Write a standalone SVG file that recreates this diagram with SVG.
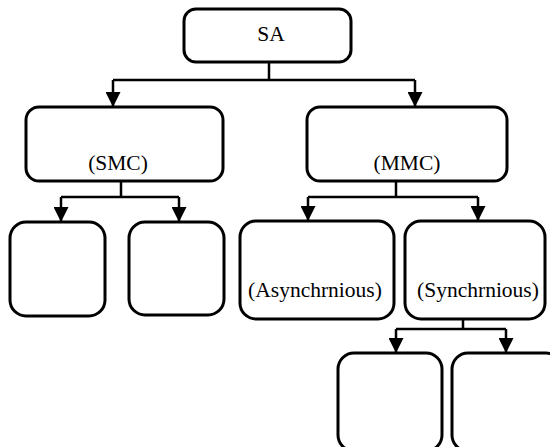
<svg xmlns="http://www.w3.org/2000/svg" width="550" height="447" viewBox="0 0 550 447">
<defs>
<marker id="arr" viewBox="0 0 15 15" refX="15" refY="7.5" markerWidth="15" markerHeight="15" markerUnits="userSpaceOnUse" orient="auto">
<path d="M0,0 L15,7.5 L0,15 Z" fill="#000"/>
</marker>
</defs>
<style>
.box{fill:#fff;stroke:#000;stroke-width:3}
.lbl{font-family:'Liberation Serif','Times New Roman','DejaVu Serif',serif;font-size:21.5px;fill:#000;text-anchor:middle}
.c{fill:none;stroke:#000;stroke-width:2.5}
</style>
<rect width="550" height="447" fill="#fff"/>
<g id="connectors">
<path class="c" d="M269,62 V80 M113,80 H415"/>
<path class="c" d="M113,80 V107" marker-end="url(#arr)"/>
<path class="c" d="M415,80 V107" marker-end="url(#arr)"/>
<path class="c" d="M121,181 V197 M61,197 H179"/>
<path class="c" d="M61,197 V222" marker-end="url(#arr)"/>
<path class="c" d="M179,197 V222" marker-end="url(#arr)"/>
<path class="c" d="M396,181 V197 M308,197 H478"/>
<path class="c" d="M308,197 V221" marker-end="url(#arr)"/>
<path class="c" d="M478,197 V221" marker-end="url(#arr)"/>
<path class="c" d="M463,319 V329 M396,329 H506"/>
<path class="c" d="M396,329 V353" marker-end="url(#arr)"/>
<path class="c" d="M506,329 V353" marker-end="url(#arr)"/>
</g>
<g id="sa"><rect class="box" x="184" y="9" width="167" height="53" rx="12"/><text class="lbl" x="271" y="41">SA</text></g>
<g id="smc"><rect class="box" x="26" y="107" width="197" height="74" rx="13"/><text class="lbl" x="118" y="170">(SMC)</text></g>
<g id="mmc"><rect class="box" x="307" y="107" width="200" height="74" rx="13"/><text class="lbl" x="407" y="170">(MMC)</text></g>
<g id="smc1"><rect class="box" x="10" y="222" width="95" height="94" rx="16"/></g>
<g id="smc2"><rect class="box" x="129" y="222" width="95" height="93" rx="16"/></g>
<g id="async"><rect class="box" x="240" y="221" width="154" height="98" rx="16"/><text class="lbl" x="315" y="297">(Asynchrnious)</text></g>
<g id="sync"><rect class="box" x="405" y="221" width="140" height="98" rx="16"/><text class="lbl" x="478" y="297">(Synchrnious)</text></g>
<g id="sync1"><rect class="box" x="338" y="353" width="104" height="98" rx="16"/></g>
<g id="sync2"><rect class="box" x="452" y="353" width="110" height="98" rx="16"/></g>
</svg>
